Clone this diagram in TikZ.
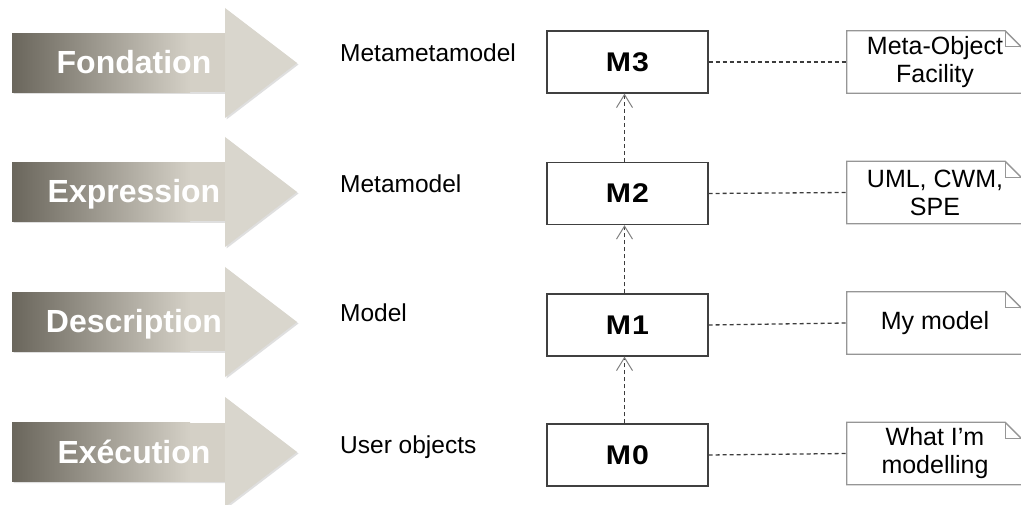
\documentclass[tikz,border=0pt]{standalone}
\usepackage{fontspec}
\setmainfont{Liberation Sans}
\newfontfamily\mfont{Liberation Sans}[LetterSpace=4,FakeStretch=1.12]
\usetikzlibrary{arrows.meta,backgrounds}
\definecolor{darkg}{RGB}{106,102,92}
\definecolor{lightg}{RGB}{212,208,198}
\definecolor{headg}{RGB}{217,214,205}
\definecolor{notegray}{RGB}{150,150,150}
\definecolor{linegray}{RGB}{60,60,60}
\tikzset{
  armtext/.style={text=white, font=\bfseries\fontsize{32}{38}\selectfont, anchor=base, inner sep=0pt},
  lvl/.style={font=\fontsize{24.5}{29}\selectfont, anchor=base west, inner sep=0pt},
  mbox/.style={draw=black!75, line width=1.3pt, fill=white, minimum width=161pt, minimum height=62pt, inner sep=0pt, font=\mfont\bfseries\fontsize{27}{32}\selectfont},
  notebox/.style={minimum width=176pt, minimum height=62pt, inner sep=0pt, align=center, font=\fontsize{25}{28}\selectfont},
  noteline/.style={draw=notegray, line width=1.3pt, fill=white, line join=miter},
  dep/.style={draw=linegray, line width=1.2pt, dash pattern=on 4pt off 3pt, -{Straight Barb[length=13pt, width=16pt, line width=1pt, color=black!50]}},
  hdash/.style={draw=linegray, line width=1.3pt, dash pattern=on 4pt off 3pt}
}
\begin{document}
\begin{tikzpicture}[x=1pt,y=-1pt]
\useasboundingbox (0,0) rectangle (1021,505);
\clip (0,0) rectangle (1021,505);
% big process arrows
\foreach \c/\n/\t in {63/fon/Fondation, 192/exp/Expression, 322/des/Description, 452/exe/Exécution}{
  \fill[black!25, opacity=.5] (13.5,\c-28) -- (226.5,\c-28) -- (226.5,\c-53.5) -- (298.5,\c+1.5) -- (226.5,\c+56.5) -- (226.5,\c+31) -- (13.5,\c+31) -- cycle;
  \shade[left color=darkg, right color=lightg] (12,\c-29.5) rectangle (190,\c+29.5);
  \fill[lightg] (189.5,\c-29.5) rectangle (225.5,\c+29.5);
  \fill[headg] (225,\c-55) -- (297,\c) -- (225,\c+55) -- cycle;
  \node[armtext] (\n) at (134,\c+11) {\t};
}
% level labels
\node[lvl] (l3) at (340,62) {Metametamodel};
\node[lvl] (l2) at (340,193) {Metamodel};
\node[lvl] (l1) at (340,322) {Model};
\node[lvl] (l0) at (340,453) {User objects};
% M boxes
\node[mbox] (m3) at (627.5,62) {M3};
\node[mbox] (m2) at (627.5,193.5) {M2};
\node[mbox] (m1) at (627.5,325) {M1};
\node[mbox] (m0) at (627.5,455) {M0};
% dependency arrows
\draw[dep] ([xshift=-3pt]m0.north) -- ([xshift=-3pt]m1.south);
\draw[dep] ([xshift=-3pt]m1.north) -- ([xshift=-3pt]m2.south);
\draw[dep] ([xshift=-3pt]m2.north) -- ([xshift=-3pt]m3.south);
% notes
\node[notebox] (n3) at (935,62) {Meta-Object\\Facility};
\node[notebox] (n2) at (935,192.5) {UML, CWM,\\SPE};
\node[notebox] (n1) at (935,323) {My model};
\node[notebox] (n0) at (935,453.5) {What I’m\\modelling};
\begin{pgfonlayer}{background}
\foreach \n in {n3,n2,n1,n0}{
  \path[noteline] (\n.north west) -- ([xshift=-18pt]\n.north east) -- ([yshift=-18pt]\n.north east) -- (\n.south east) -- (\n.south west) -- cycle;
  \draw[draw=notegray, line width=1.3pt] ([xshift=-18pt]\n.north east) -- ([xshift=-18pt,yshift=-16pt]\n.north east) -- ([yshift=-16pt]\n.north east);
}
\end{pgfonlayer}
% connectors to notes
\draw[hdash] (m3.east) -- (n3.west);
\draw[hdash] (m2.east) -- (n2.west);
\draw[hdash] (m1.east) -- (n1.west);
\draw[hdash] (m0.east) -- (n0.west);
\end{tikzpicture}
\end{document}
